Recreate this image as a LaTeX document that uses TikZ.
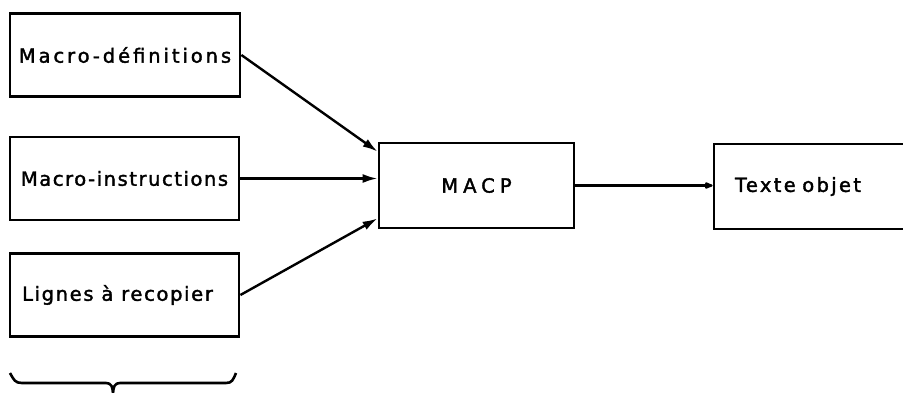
\documentclass[tikz,border=0pt]{standalone}
\usepackage{fontspec}
\usetikzlibrary{arrows.meta,calc}
\newfontfamily\lettering[LetterSpace=12,FakeBold=1.8]{DejaVu Sans}
\newcommand\spacing[1]{\addfontfeature{LetterSpace=#1}}
\tikzset{
  blockbox/.style={draw, line width=2.8pt, rectangle, minimum height=83pt,
    inner sep=0pt, font=\lettering\fontsize{19.5}{22}\selectfont},
  feed/.style={line width=2.4pt, -{Latex[length=15pt,width=9pt]}},
  outfeed/.style={line width=2.4pt, -{Latex[length=11pt,width=8pt,round]}}
}
\begin{document}
\begin{tikzpicture}[x=1pt,y=-1pt]
  \clip (0,0) rectangle (903,392);
  \fill[white] (0,0) rectangle (903,392);

  % source texts
  \node[blockbox, minimum width=230pt] (defs) at (125,55)
    {\raisebox{-4pt}{\spacing{15}Macro-définitions}};
  \node[blockbox, minimum width=229pt] (instr) at (124.5,178.5)
    {\raisebox{-3pt}{\spacing{8}Macro-instructions}};
  \node[blockbox, minimum width=229pt] (copy) at (124.5,295)
    {\raisebox{-2pt}{\spacing{8.5}Lignes à recopier}\rule{14pt}{0pt}};

  % macro processor
  \node[blockbox, minimum width=195pt, minimum height=85pt] (macp) at (476.5,185.5)
    {\raisebox{-4pt}{\spacing{26}MACP}};

  % output text (runs past the right edge)
  \node[blockbox, minimum width=201pt, minimum height=85pt, text width=159pt,
        inner xsep=21pt, align=left] (objet) at (814.5,186.5)
    {\raisebox{-6pt}{Texte objet}};

  % connectors
  \draw[feed] (defs.east) -- ([yshift=-10pt]macp.north west);
  \draw[feed] (instr.east) -- (macp.west |- instr.east);
  \draw[feed] (copy.east) -- ([yshift=11pt]macp.south west);
  \draw[outfeed] (macp.east) -- (objet.west |- macp.east);

  % brace under the three inputs
  \draw[line width=2.6pt, line join=round]
    (10,373) .. controls (14,380) and (15,383) .. (22,383)
    -- (106,383) .. controls (111,383) and (113,386) .. (113,396)
    .. controls (113,386) and (115,383) .. (120,383)
    -- (226,383) .. controls (232,383) and (233,380) .. (236,373);
\end{tikzpicture}
\end{document}
